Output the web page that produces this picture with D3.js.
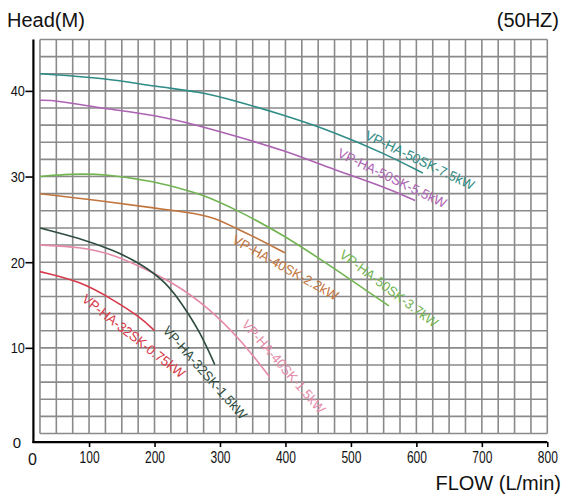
<!DOCTYPE html>
<html>
<head>
<meta charset="utf-8">
<script src="https://cdn.jsdelivr.net/npm/d3@7"></script>
<style>
    body { margin: 0; background: #fff; }
    svg { display: block; font-family: "Liberation Sans", Arial, sans-serif; }
</style>
</head>
<body>
<div id="chart"></div>
<script>
// pump curves as [flow L/min, head M]
const curve50SK75 = [[25, 42.0], [126, 41.5], [201, 40.5], [270, 39.9], [320, 38.9], [397, 37.2], [474, 35.2], [551, 32.7], [610, 30.4]];
const curve50SK55 = [[25, 38.9], [48, 38.9], [126, 37.9], [201, 37.2], [270, 35.9], [320, 34.8], [397, 33.1], [474, 30.8], [551, 28.8], [598, 27.2]];
const curve50SK37 = [[25, 30.0], [70, 30.3], [126, 30.3], [201, 29.4], [239, 28.6], [270, 28.0], [326, 26.1], [397, 23.2], [474, 19.3], [558, 14.9]];
const curve40SK22 = [[25, 28.0], [126, 27.1], [201, 26.3], [244, 25.9], [290, 25.3], [320, 24.1], [341, 23.4], [399, 21.1]];
const curve40SK15 = [[25, 22.0], [86, 21.8], [137, 20.9], [178, 19.5], [229, 17.6], [280, 14.85], [331, 11.0], [376, 6.6]];
const curve32SK15 = [[25, 24.0], [86, 22.8], [137, 21.4], [178, 19.9], [219, 17.6], [244, 14.9], [270, 11.8], [292, 8.05]];
const curve32SK075 = [[25, 18.9], [86, 17.8], [137, 15.6], [178, 13.6], [200, 12.0]];

const seriesNames = ["VP-HA-50SK-7.5kW", "VP-HA-50SK-5.5kW", "VP-HA-50SK-3.7kW", "VP-HA-40SK-2.2kW",
    "VP-HA-40SK-1.5kW", "VP-HA-32SK-1.5kW", "VP-HA-32SK-0.75kW"];
const seriesData = [curve50SK75, curve50SK55, curve50SK37, curve40SK22, curve40SK15, curve32SK15, curve32SK075];

const flowTicks = [100, 200, 300, 400, 500, 600, 700, 800];
const headTicks = [10, 20, 30, 40];

// styling / label placement (not data)
const colors = ["#2f8c86", "#ad62b3", "#72b452", "#c2743d", "#e48aa8", "#2e4d3e", "#d8394a"];
const labelPos = [
    { flow: 605, head: 31.9, angle: 25.7 },
    { flow: 563, head: 29.8, angle: 25.8 },
    { flow: 558, head: 16.9, angle: 36.9 },
    { flow: 400, head: 19.35, angle: 29.2 },
    { flow: 397, head: 7.8, angle: 48.9 },
    { flow: 277, head: 7.1, angle: 48.4 },
    { flow: 168, head: 11.35, angle: 38.0 }
];

const width = 568, height = 500;
const axisFlow = 15, axisHead = -1;   // where the black axis lines sit

const x = d3.scaleLinear().domain([0, 800]).range([23.6, 547.3]);
const y = d3.scaleLinear().domain([0, 46]).range([433.5, 39.5]);

const svg = d3.select("#chart").append("svg")
    .attr("width", width)
    .attr("height", height);

// grid
const grid = svg.append("g").attr("stroke", "#8a8a8a").attr("stroke-width", 1.6);
grid.selectAll("line.v").data(d3.range(25, 801, 25)).enter()
    .append("line").attr("class", "v")
    .attr("x1", d => x(d)).attr("x2", d => x(d))
    .attr("y1", y(0)).attr("y2", y(46));
grid.selectAll("line.h").data(d3.range(0, 47, 2)).enter()
    .append("line").attr("class", "h")
    .attr("x1", x(25)).attr("x2", x(800))
    .attr("y1", d => y(d)).attr("y2", d => y(d));

// axes
const xAxis = svg.append("g")
    .attr("transform", `translate(0,${y(axisHead)})`)
    .call(d3.axisBottom(x).tickValues(flowTicks).tickSize(5).tickPadding(5).tickSizeOuter(0));
xAxis.select(".domain").remove();
xAxis.selectAll("line").attr("stroke", "#000").attr("stroke-width", 1.6);
xAxis.selectAll("text")
    .attr("font-size", 16).attr("fill", "#111")
    .attr("font-family", "'Liberation Sans', Arial, sans-serif")
    .attr("transform", "scale(0.75,1)");

const yAxis = svg.append("g")
    .attr("transform", `translate(${x(axisFlow)},0)`)
    .call(d3.axisLeft(y).tickValues(headTicks).tickSize(8).tickPadding(2).tickSizeOuter(0));
yAxis.select(".domain").remove();
yAxis.selectAll("line").attr("stroke", "#000").attr("stroke-width", 1.6);
yAxis.selectAll("text")
    .attr("font-size", 15).attr("fill", "#111")
    .attr("font-family", "'Liberation Sans', Arial, sans-serif")
    .attr("transform", "scale(0.85,1)");

svg.append("line")
    .attr("x1", x(axisFlow)).attr("x2", x(axisFlow))
    .attr("y1", y(46)).attr("y2", y(axisHead) + 1)
    .attr("stroke", "#000").attr("stroke-width", 2.2);
svg.append("line")
    .attr("x1", x(axisFlow) - 1).attr("x2", x(800))
    .attr("y1", y(axisHead)).attr("y2", y(axisHead))
    .attr("stroke", "#000").attr("stroke-width", 2.2);

// the two "0" labels at the axis corner
svg.append("text")
    .attr("x", x(axisFlow) - 16.5).attr("y", y(axisHead) + 6)
    .attr("text-anchor", "middle").attr("font-size", 15).attr("fill", "#111")
    .text("0");
svg.append("text")
    .attr("x", x(axisFlow) - 1).attr("y", y(axisHead) + 22.5)
    .attr("text-anchor", "middle").attr("font-size", 16).attr("fill", "#111")
    .text("0");

// curves, smoothed the way the printed sheet is
const line = d3.line()
    .x(d => x(d[0]))
    .y(d => y(d[1]))
    .curve(d3.curveBasis);

svg.append("g").selectAll("path")
    .data(seriesData).enter()
    .append("path")
    .attr("d", line)
    .attr("fill", "none")
    .attr("stroke", (d, i) => colors[i])
    .attr("stroke-width", 1.6);

// rotated curve labels
svg.append("g").selectAll("text")
    .data(seriesNames).enter()
    .append("text")
    .attr("transform", (d, i) => `translate(${x(labelPos[i].flow)},${y(labelPos[i].head)}) rotate(${labelPos[i].angle})`)
    .attr("text-anchor", "middle")
    .attr("dominant-baseline", "central")
    .attr("font-size", 13.5)
    .attr("textLength", d => d.length * 7.45)
    .attr("lengthAdjust", "spacingAndGlyphs")
    .attr("fill", (d, i) => colors[i])
    .text(d => d);

// titles
svg.append("text")
    .attr("x", 7).attr("y", 27)
    .attr("font-size", 20).attr("fill", "#111")
    .text("Head(M)");
svg.append("text")
    .attr("x", 559).attr("y", 27)
    .attr("text-anchor", "end")
    .attr("font-size", 20).attr("fill", "#111")
    .text("(50HZ)");
svg.append("text")
    .attr("x", 561).attr("y", 490)
    .attr("text-anchor", "end")
    .attr("font-size", 20).attr("fill", "#111")
    .text("FLOW (L/min)");
</script>
</body>
</html>
